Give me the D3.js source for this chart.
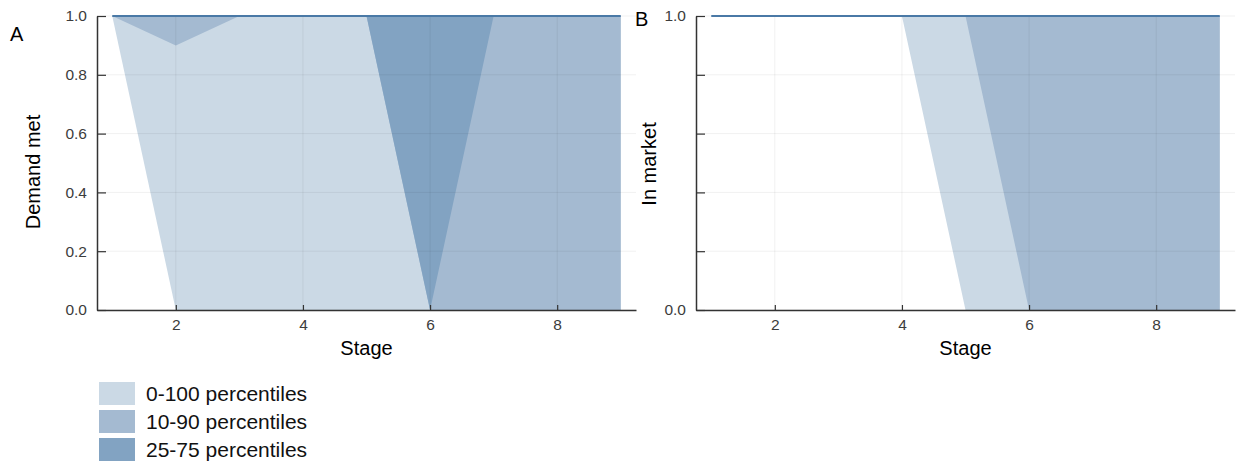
<!DOCTYPE html>
<html>
<head>
<meta charset="utf-8">
<script src="https://cdn.jsdelivr.net/npm/d3@7"></script>
<style>
  body { margin: 0; background: #fff; }
  text { font-family: "Liberation Sans", Arial, sans-serif; }
</style>
</head>
<body>
<script>
// stages on the x axis
const stages = [1, 2, 3, 4, 5, 6, 7, 8, 9];

// panel A: demand met
const demandMedian = [1, 1, 1, 1, 1, 1, 1, 1, 1];
const demandP0   = [1, 0, 0, 0, 0, 0, 0, 0, 0];
const demandP100 = [1, 1, 1, 1, 1, 1, 1, 1, 1];
const demandP10  = [1, 0.9, 1, 1, 1, 0, 0, 0, 0];
const demandP90  = [1, 1, 1, 1, 1, 1, 1, 1, 1];
const demandP25  = [1, 1, 1, 1, 1, 0, 1, 1, 1];
const demandP75  = [1, 1, 1, 1, 1, 1, 1, 1, 1];

// panel B: in market
const marketMedian = [1, 1, 1, 1, 1, 1, 1, 1, 1];
const marketP0   = [1, 1, 1, 1, 0, 0, 0, 0, 0];
const marketP100 = [1, 1, 1, 1, 1, 1, 1, 1, 1];
const marketP10  = [1, 1, 1, 1, 1, 0, 0, 0, 0];
const marketP90  = [1, 1, 1, 1, 1, 1, 1, 1, 1];
const marketP25  = [1, 1, 1, 1, 1, 1, 1, 1, 1];
const marketP75  = [1, 1, 1, 1, 1, 1, 1, 1, 1];

const bandNames = ["0-100 percentiles", "10-90 percentiles", "25-75 percentiles"];
const bandColors = ["#cbd9e5", "#a4bad1", "#82a3c2"];
const lineColor = "#4a79a6";

const xTicks = [2, 4, 6, 8];
const yTicks = [0, 0.2, 0.4, 0.6, 0.8, 1.0];

const W = 1238, H = 464;
const svg = d3.select("body").append("svg")
    .attr("width", W)
    .attr("height", H);

function drawPanel(opt) {
    const x = d3.scaleLinear().domain([0.76, 9.24]).range([opt.left, opt.left + 539]);
    const y = d3.scaleLinear().domain([0, 1]).range([310, 16]);
    const g = svg.append("g").attr("class", "panel_" + opt.letter);

    //******* BANDS */
    const bands = [[opt.p0, opt.p100], [opt.p10, opt.p90], [opt.p25, opt.p75]];
    bands.forEach((b, i) => {
        const area = d3.area()
            .x((d, j) => x(stages[j]))
            .y0((d, j) => y(b[0][j]))
            .y1((d, j) => y(b[1][j]));
        g.append("path")
            .datum(stages)
            .attr("d", area)
            .attr("fill", bandColors[i]);
    });

    //******* GRID */
    const grid_g = g.append("g").attr("class", "grid");
    grid_g.selectAll("line.gx").data(xTicks).join("line")
        .attr("x1", d => x(d)).attr("x2", d => x(d))
        .attr("y1", y(0)).attr("y2", y(1))
        .attr("stroke", "#000").attr("stroke-opacity", 0.06).attr("stroke-width", 1);
    grid_g.selectAll("line.gy").data(yTicks).join("line")
        .attr("x1", x.range()[0]).attr("x2", x.range()[1])
        .attr("y1", d => y(d)).attr("y2", d => y(d))
        .attr("stroke", "#000").attr("stroke-opacity", 0.06).attr("stroke-width", 1);

    //******* MEDIAN */
    const line = d3.line().x((d, j) => x(stages[j])).y(d => y(d));
    g.append("path")
        .datum(opt.median)
        .attr("d", line)
        .attr("fill", "none")
        .attr("stroke", lineColor)
        .attr("stroke-width", 2);

    //******* AXES */
    const xAxis = d3.axisBottom(x).tickValues(xTicks).tickFormat(d3.format("d"))
        .tickSizeInner(-5).tickSizeOuter(0).tickPadding(9);
    const yAxis = d3.axisLeft(y).tickValues(yTicks)
        .tickFormat(d => opt.yLabels(d))
        .tickSizeInner(-9).tickSizeOuter(0).tickPadding(10);

    const xa = g.append("g").attr("transform", "translate(0," + y(0) + ")").call(xAxis);
    const ya = g.append("g").attr("transform", "translate(" + x.range()[0] + ",0)").call(yAxis);
    [xa, ya].forEach(a => {
        a.select(".domain").attr("stroke", "#333").attr("stroke-width", 1.5);
        a.selectAll(".tick line").attr("stroke", "#333").attr("stroke-width", 1.2);
        a.selectAll(".tick text").attr("fill", "#3c3c3c").style("font-size", "15.5px")
            .style("font-family", "'Liberation Sans', Arial, sans-serif");
    });

    //** labels */
    g.append("text")
        .attr("x", (x.range()[0] + x.range()[1]) / 2)
        .attr("y", 355)
        .attr("text-anchor", "middle")
        .style("font-size", "20px")
        .text("Stage");
    g.append("text")
        .attr("transform", "translate(" + opt.ylabX + "," + opt.ylabY + ") rotate(-90)")
        .attr("text-anchor", "middle")
        .attr("dy", "0.35em")
        .style("font-size", "20px")
        .text(opt.ylab);
    g.append("text")
        .attr("x", opt.letterX)
        .attr("y", opt.letterY)
        .style("font-size", "20px")
        .text(opt.letter);
}

drawPanel({
    letter: "A", letterX: 10, letterY: 41,
    left: 97,
    ylab: "Demand met", ylabX: 33, ylabY: 172,
    yLabels: d3.format(".1f"),
    median: demandMedian,
    p0: demandP0, p100: demandP100, p10: demandP10, p90: demandP90, p25: demandP25, p75: demandP75
});

drawPanel({
    letter: "B", letterX: 635, letterY: 26,
    left: 696,
    ylab: "In market", ylabX: 649, ylabY: 164,
    yLabels: d => (d === 0 || d === 1) ? d3.format(".1f")(d) : "",
    median: marketMedian,
    p0: marketP0, p100: marketP100, p10: marketP10, p90: marketP90, p25: marketP25, p75: marketP75
});

//******** LEGEND */
const legend_g = svg.append("g").attr("class", "legend");
const row = legend_g.selectAll("g").data(bandNames).join("g")
    .attr("transform", (d, i) => "translate(99," + (382 + i * 28) + ")");
row.append("rect")
    .attr("width", 36).attr("height", 23)
    .attr("fill", (d, i) => bandColors[i]);
row.append("text")
    .attr("x", 47).attr("y", 19)
    .style("font-size", "21px")
    .attr("fill", "#111")
    .text(d => d);
</script>
</body>
</html>
